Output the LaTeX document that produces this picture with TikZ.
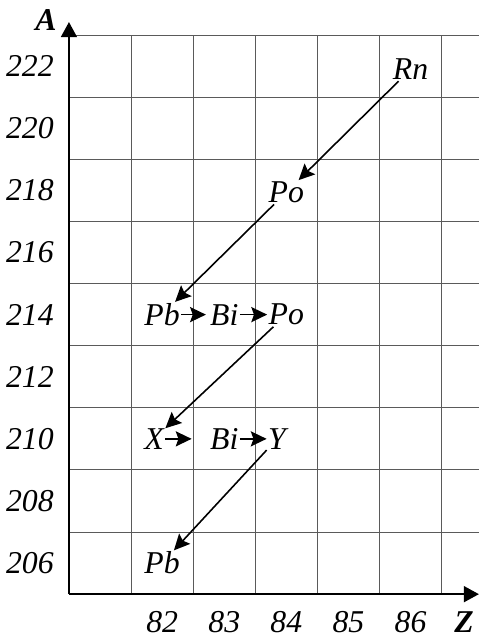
\documentclass[tikz,border=0pt]{standalone}
\usepackage{fontspec}
\setmainfont{Liberation Serif}
\usepackage{tikz}
\usetikzlibrary{
  arrows.meta,
  positioning
}
\definecolor{chGrid}{HTML}{5A5A5A}
\tikzset{
  gridline/.style={draw=chGrid, line width=0.8pt},
  axisline/.style={-{Triangle[length=4mm, width=4.2mm]}, line width=1.6pt},
  decay/.style={-{Stealth[length=4.2mm, width=4mm, inset=0.7mm]}, line width=1.2pt},
  nuc/.style={font=\fontsize{24}{28}\selectfont\itshape, inner sep=1pt},
  tick/.style={font=\fontsize{24}{28}\selectfont\itshape},
  axlabel/.style={font=\fontsize{24}{28}\selectfont\bfseries\itshape}
}

\begin{document}
\begin{tikzpicture}[x=1.65cm, y=1.65cm]
  \useasboundingbox (-1.11,-0.77) rectangle (6.6,9.565);
  % Grid: one cell per unit of Z, two units of A
  \foreach \i in {1,...,6}
    \draw[gridline] (\i,0) -- (\i,9);
  \foreach \j in {1,...,9}
    \draw[gridline] (0,\j) -- (6.6,\j);
  % Axes
  \coordinate (orig) at (0,0);
  \coordinate (atip) at (0,9.21);
  \coordinate (ztip) at (6.6,0);
  \draw[axisline] (orig) -- (atip);
  \draw[axisline] (orig) -- (ztip);
  \node[axlabel] (alab) at (-0.37,9.24) {A};
  \node[axlabel] (zlab) at (6.36,-0.45) {Z};
  % Tick labels
  \foreach \a [count=\k from 0] in {206,208,...,222}
    \node[tick, anchor=east] (a\a) at (-0.17,\k+0.5) {\a};
  \foreach \z in {82,...,86}
    \node[tick] (z\z) at (\z-80.5,-0.45) {\z};
  % Nuclides
  \node[nuc] (Rn)  at (5.5,8.45)  {Rn};
  \node[nuc] (PoA) at (3.5,6.47)  {Po};
  \node[nuc] (PbA) at (1.5,4.5)   {Pb};
  \node[nuc] (BiA) at (2.5,4.5)   {Bi};
  \node[nuc] (PoB) at (3.5,4.5)   {Po};
  \node[nuc] (X)   at (1.37,2.5)  {X};
  \node[nuc] (BiB) at (2.5,2.5)   {Bi};
  \node[nuc] (Y)   at (3.35,2.5)  {Y};
  \node[nuc] (PbB) at (1.5,0.5)   {Pb};
  % Alpha decays (diagonal)
  \draw[decay] (Rn) -- (PoA);
  \draw[decay] (PoA) -- (PbA);
  \draw[decay] (PoB) -- (X);
  \draw[decay] (Y) -- (PbB);
  % Beta decays (horizontal)
  \draw[decay, shorten >=2pt] (PbA) -- (BiA);
  \draw[decay] (BiA) -- (PoB);
  \draw[decay, shorten >=4.5mm] (X) -- (BiB);
  \draw[decay] (BiB) -- (Y);
\end{tikzpicture}
\end{document}
